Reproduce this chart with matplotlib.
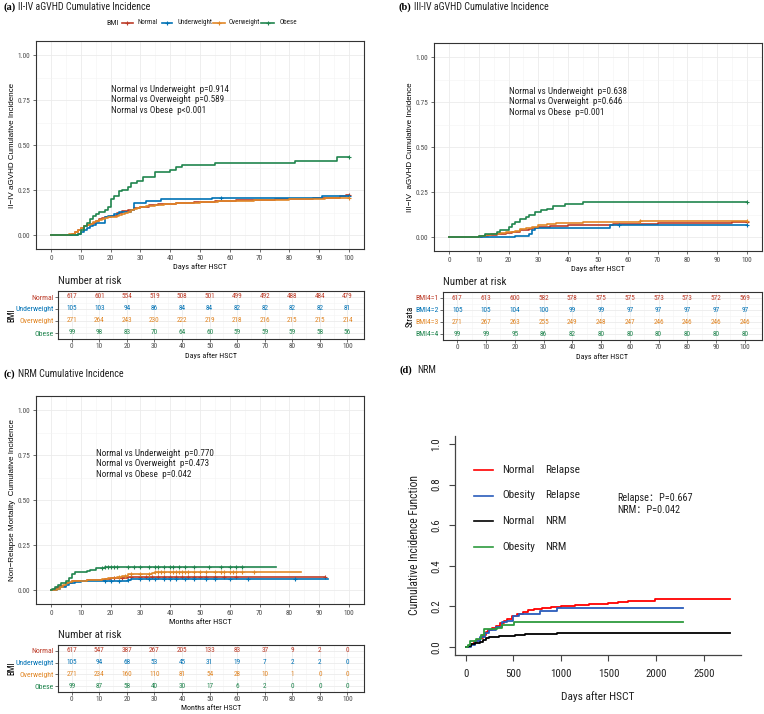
import matplotlib

matplotlib.use("Agg")
import matplotlib.pyplot as plt
import numpy as np
from matplotlib import font_manager as fm
from matplotlib.lines import Line2D

W, H = 764, 714
SERIF = ["Liberation Serif", "DejaVu Serif"]


def pick_narrow():
    """Find a condensed sans if one is installed, else fall back to Roboto."""
    fonts = [(f.name, str(f.stretch)) for f in fm.fontManager.ttflist]
    names = {n for n, _ in fonts}
    for n in ["Liberation Sans Narrow", "Roboto Condensed", "Open Sans Condensed",
              "Noto Sans Condensed", "DejaVu Sans Condensed"]:
        if n in names:
            return n, "normal", 1.0
    for n, s in fonts:
        if n in ("DejaVu Sans", "Noto Sans", "Open Sans", "Roboto") and "condensed" in s:
            return n, "condensed", 1.0
    return "Roboto", "normal", 0.86


NARROW_NAME, NARROW_STRETCH, FS = pick_narrow()
NARROW = [NARROW_NAME, "DejaVu Sans"]
plt.rcParams["font.family"] = NARROW
plt.rcParams["font.stretch"] = NARROW_STRETCH

GROUPS = ["Normal", "Underweight", "Overweight", "Obese"]
STRATA = ["BMI4=1", "BMI4=2", "BMI4=3", "BMI4=4"]
COLORS = ["#BC3C29", "#0072B5", "#E18727", "#20854E"]
RISK_TIMES = [0, 10, 20, 30, 40, 50, 60, 70, 80, 90, 100]

# ---- (a) II-IV aGVHD, days ----
a_normal_t = [0, 5, 7, 8, 9, 10, 11, 12, 13, 14, 15, 16, 17, 18, 19, 20, 22, 24, 26, 28, 30, 33, 36, 42, 48, 55, 62, 75, 88, 93, 97, 99]
a_normal_v = [0, .005, .01, .02, .03, .04, .05, .06, .065, .07, .08, .09, .095, .1, .105, .11, .125, .135, .14, .15, .16, .17, .175, .18, .185, .19, .195, .2, .205, .21, .22, .225]
a_under_t = [0, 9, 10, 11, 12, 13, 14, 15, 18, 19, 21, 23, 27, 28, 32, 37, 54, 91]
a_under_v = [0, .01, .02, .03, .04, .05, .06, .07, .1, .11, .12, .13, .14, .18, .19, .2, .21, .22]
a_over_t = [0, 4, 6, 8, 9, 10, 11, 12, 13, 14, 15, 16, 17, 18, 19, 20, 22, 23, 24, 25, 26, 27, 28, 29, 30, 32, 35, 38, 42, 50, 56, 68, 80, 92, 99]
a_over_v = [0, .005, .01, .02, .03, .04, .05, .06, .065, .075, .08, .085, .09, .095, .1, .105, .11, .115, .12, .125, .13, .14, .145, .15, .16, .165, .17, .175, .18, .185, .19, .195, .2, .205, .21]
a_obese_t = [0, 9, 10, 11, 12, 13, 14, 15, 16, 18, 19, 20, 21, 23, 24, 26, 27, 29, 31, 35, 40, 42, 44, 55, 82, 96]
a_obese_v = [0, .01, .03, .05, .07, .09, .11, .12, .13, .14, .16, .2, .22, .245, .25, .27, .29, .3, .326, .35, .364, .38, .39, .4, .415, .435]
a_marks = [[100], [57, 100], [100], [100]]
a_pvals = ["Normal vs Underweight  p=0.914", "Normal vs Overweight  p=0.589", "Normal vs Obese  p<0.001"]
a_risk = [
    [617, 601, 554, 519, 508, 501, 499, 492, 488, 484, 479],
    [105, 103, 94, 86, 84, 84, 82, 82, 82, 82, 81],
    [271, 264, 243, 230, 222, 219, 218, 216, 215, 215, 214],
    [99, 98, 83, 70, 64, 60, 59, 59, 59, 58, 56],
]

# ---- (b) III-IV aGVHD, days ----
b_normal_t = [0, 9, 11, 13, 16, 19, 21, 24, 27, 28, 30, 34, 40, 55, 70, 95]
b_normal_v = [0, .005, .01, .015, .02, .025, .03, .04, .045, .05, .06, .065, .07, .075, .08, .085]
b_under_t = [0, 20, 22, 27, 28, 29, 38, 54]
b_under_v = [0, .005, .01, .02, .04, .05, .055, .067]
b_over_t = [0, 4, 10, 12, 14, 17, 19, 22, 24, 26, 28, 30, 33, 36, 45, 64]
b_over_v = [0, .005, .01, .015, .02, .025, .03, .035, .045, .05, .06, .07, .075, .08, .085, .09]
b_obese_t = [0, 10, 12, 16, 17, 20, 21, 22, 24, 26, 27, 29, 31, 33, 35, 39, 45]
b_obese_v = [0, .01, .02, .03, .04, .06, .075, .085, .1, .115, .125, .14, .15, .16, .175, .185, .195]
b_marks = [[100], [57, 100], [64, 100], [100]]
b_pvals = ["Normal vs Underweight  p=0.638", "Normal vs Overweight  p=0.646", "Normal vs Obese  p=0.001"]
b_risk = [
    [617, 613, 600, 582, 578, 575, 575, 573, 573, 572, 569],
    [105, 105, 104, 100, 99, 99, 97, 97, 97, 97, 97],
    [271, 267, 263, 255, 249, 248, 247, 246, 246, 246, 246],
    [99, 99, 95, 86, 82, 80, 80, 80, 80, 80, 80],
]

# ---- (c) NRM, months ----
c_normal_t = [0, 1, 2, 3, 5, 7, 10, 12, 18, 20, 26]
c_normal_v = [0, .01, .02, .025, .04, .05, .055, .06, .065, .07, .075]
c_under_t = [0, 2, 3, 5, 6, 8, 10, 20, 26, 27]
c_under_v = [0, .01, .02, .03, .04, .045, .05, .055, .06, .065]
c_over_t = [0, 1, 2, 3, 4, 5, 6, 7, 9, 12, 17, 19, 22, 24, 26, 34, 35]
c_over_v = [0, .005, .01, .02, .03, .04, .045, .05, .055, .06, .065, .07, .075, .08, .09, .095, .1]
c_obese_t = [0, .5, 1.5, 2.5, 3.5, 5, 6, 7, 8, 11, 12, 13, 15, 18]
c_obese_v = [0, .01, .02, .03, .04, .05, .07, .09, .1, .105, .11, .115, .125, .13]
c_ends = [92, 93, 84, 75.5]
c_marks = [
    [21, 24, 27, 30, 32, 34, 36, 38, 40, 42, 44, 46, 48, 50, 52, 55, 58, 62, 92],
    [18, 20, 23, 26, 30, 33, 35, 38, 40, 42, 45, 48, 52, 55, 60, 66, 82],
    [23, 25, 27, 30, 33, 35, 36, 37, 38, 40, 41, 42, 43, 44, 45, 46, 48, 50, 52, 55, 57, 58, 60, 61, 62, 64, 68],
    [17, 18, 19, 20, 21, 22, 26, 28, 30, 33, 35, 36, 38, 40, 41, 43, 45, 48, 53, 57, 60, 62, 64],
]
c_pvals = ["Normal vs Underweight  p=0.770", "Normal vs Overweight  p=0.473", "Normal vs Obese  p=0.042"]
c_risk = [
    [617, 547, 387, 267, 205, 133, 83, 37, 9, 2, 0],
    [105, 94, 68, 53, 45, 31, 19, 7, 2, 2, 0],
    [271, 234, 160, 110, 81, 54, 28, 10, 1, 0, 0],
    [99, 87, 58, 40, 30, 17, 6, 2, 0, 0, 0],
]

# ---- (d) competing risks, days ----
d_labels = [("Normal", "Relapse"), ("Obesity", "Relapse"), ("Normal", "NRM"), ("Obesity", "NRM")]
d_colors = ["#FF0000", "#2A5CBB", "#000000", "#2E9B3E"]
d_nrel_t = [0, 40, 60, 90, 120, 150, 180, 210, 240, 280, 320, 360, 400, 440, 490, 540, 600, 660, 720, 800, 900, 1000, 1150, 1300, 1500, 1600, 1700, 1990]
d_nrel_v = [0, .005, .015, .025, .035, .045, .06, .075, .085, .093, .105, .118, .128, .14, .152, .162, .172, .18, .188, .192, .197, .202, .207, .212, .217, .222, .228, .238]
d_orel_t = [0, 60, 100, 150, 200, 250, 320, 380, 440, 500, 560, 780, 960]
d_orel_v = [0, .01, .03, .05, .07, .085, .1, .125, .13, .15, .16, .175, .19]
d_nnrm_t = [0, 30, 60, 100, 150, 180, 210, 250, 350, 450, 520, 620, 800, 960]
d_nnrm_v = [0, .005, .012, .02, .025, .035, .045, .05, .053, .056, .06, .063, .066, .07]
d_onrm_t = [0, 25, 50, 110, 160, 190, 330, 380, 510]
d_onrm_v = [0, .01, .03, .04, .06, .09, .095, .11, .125]
d_ends = [2780, 2280, 2780, 2280]


def px_axes(fig, left, top, right, bottom):
    return fig.add_axes([left / W, 1 - bottom / H, (right - left) / W, (bottom - top) / H])


def ftext(fig, x, y, s, **kw):
    kw.setdefault("va", "center")
    return fig.text(x / W, 1 - y / H, s, **kw)


def fline(fig, x0, x1, y, color, marker=None):
    ln = Line2D([x0 / W, x1 / W], [1 - y / H, 1 - y / H], color=color, lw=1.2,
                transform=fig.transFigure)
    fig.add_artist(ln)
    if marker:
        mk = Line2D([(x0 + x1) / 2 / W], [1 - y / H], marker=marker, ms=3.5, mew=0.8,
                    color=color, transform=fig.transFigure)
        fig.add_artist(mk)


def gg_frame(ax, xlim, ylim, tick_len=2.5, pad=1.5):
    ax.set_xlim(xlim)
    ax.set_ylim(ylim)
    ax.grid(which="major", color="#EBEBEB", lw=0.6)
    ax.grid(which="minor", color="#F3F3F3", lw=0.4)
    ax.set_axisbelow(True)
    for s in ax.spines.values():
        s.set_color("#333333")
        s.set_linewidth(0.8)
    ax.tick_params(which="major", length=tick_len, width=0.5, color="#333333",
                   labelsize=5.3 * FS, labelcolor="#4D4D4D", pad=pad)
    ax.tick_params(which="minor", length=0)


def step_curve(ax, t, v, end, color, marks=(), lw=1.2):
    ax.step(list(t) + [end], list(v) + [v[-1]], where="post", color=color, lw=lw)
    if len(marks):
        m = np.asarray(marks, dtype=float)
        idx = np.searchsorted(t, m, side="right") - 1
        ax.plot(m, np.asarray(v)[idx], "+", color=color, ms=3.5, mew=0.8)


def cum_panel(ax, curves, ends, marks, pvals, ptext_xy, xlabel, ylabel, ylab_x, fig, box):
    gg_frame(ax, (-5, 105), (-0.075, 1.078))
    ax.set_xticks(RISK_TIMES)
    ax.set_xticks(np.arange(5, 100, 10), minor=True)
    ax.set_yticks([0, 0.25, 0.5, 0.75, 1.0])
    ax.set_yticklabels(["0.00", "0.25", "0.50", "0.75", "1.00"])
    ax.set_yticks([0.125, 0.375, 0.625, 0.875], minor=True)
    for (t, v), end, col, mk in zip(curves, ends, COLORS, marks):
        step_curve(ax, t, v, end, col, mk)
    x0, y0 = ptext_xy
    for i, s in enumerate(pvals):
        ax.text(x0, y0 - i * 0.058, s, fontsize=6.6 * FS, color="#222222", va="center")
    left, top, right, bottom = box
    ftext(fig, (left + right) / 2, bottom + 18, xlabel, ha="center", fontsize=6.0 * FS,
          color="#111111")
    ftext(fig, ylab_x, (top + bottom) / 2, ylabel, ha="center", rotation=90,
          fontsize=5.8, family=["Liberation Sans", "DejaVu Sans"], stretch="normal")


def risk_table(ax, fig, rows, labels, ylabel, ylab_x, xlabel, box):
    left, top, right, bottom = box
    gg_frame(ax, (-5, 106), (4.5, 0.5), tick_len=2, pad=1)
    ax.set_xticks(RISK_TIMES)
    ax.set_xticks(np.arange(5, 100, 10), minor=True)
    ax.set_yticks([1, 2, 3, 4])
    ax.set_yticklabels(labels)
    ax.set_yticks([1.5, 2.5, 3.5], minor=True)
    for lab, col in zip(ax.get_yticklabels(), COLORS):
        lab.set_color(col)
    ax.tick_params(axis="y", labelsize=5.6 * FS)
    for r, (counts, col) in enumerate(zip(rows, COLORS)):
        for t, n in zip(RISK_TIMES, counts):
            ax.text(t, r + 1, str(n), ha="center", va="center", fontsize=5.2 * FS, color=col)
    ftext(fig, left, top - 10, "Number at risk", ha="left", fontsize=7.8 * FS, color="#222222")
    ftext(fig, (left + right) / 2, bottom + 16.5, xlabel, ha="center", fontsize=5.8 * FS,
          color="#111111")
    ftext(fig, ylab_x, (top + bottom) / 2, ylabel, ha="center", rotation=90, fontsize=6.4 * FS)


def panel_title(fig, x, y, tag, text, gap=15):
    ftext(fig, x, y, tag, ha="left", fontsize=7.5, fontweight="bold", family=SERIF,
          stretch="normal")
    ftext(fig, x + gap, y, text, ha="left", fontsize=7.2 * FS, color="#222222")


fig = plt.figure(figsize=(W / 100, H / 100), dpi=100)
fig.patch.set_facecolor("white")

# ---- panel (a) ----
box_a = (36, 41, 364, 249)
ax_a = px_axes(fig, *box_a)
cum_panel(ax_a, [(a_normal_t, a_normal_v), (a_under_t, a_under_v), (a_over_t, a_over_v),
                 (a_obese_t, a_obese_v)], [100] * 4, a_marks, a_pvals, (20, 0.81),
          "Days after HSCT", "II\u2212IV aGVHD Cumulative Incidence", 13, fig, box_a)
box_at = (58, 291, 364, 339)
risk_table(px_axes(fig, *box_at), fig, a_risk, GROUPS, "BMI", 12, "Days after HSCT", box_at)
panel_title(fig, 3, 7, "(a)", "II-IV aGVHD Cumulative Incidence")

# legend (a)
ftext(fig, 119, 23, "BMI", ha="right", fontsize=5.8 * FS, color="#222222")
leg_lines = [(122, 133, 137), (162, 172, 177), (213, 225, 229), (261, 274, 280)]
for (x0, x1, xt), g, col in zip(leg_lines, GROUPS, COLORS):
    fline(fig, x0, x1, 23, col, marker="+")
    ftext(fig, xt, 23, g, ha="left", fontsize=5.0 * FS, color="#222222")

# ---- panel (b) ----
box_b = (434, 43, 762, 251)
ax_b = px_axes(fig, *box_b)
cum_panel(ax_b, [(b_normal_t, b_normal_v), (b_under_t, b_under_v), (b_over_t, b_over_v),
                 (b_obese_t, b_obese_v)], [100] * 4, b_marks, b_pvals, (20, 0.81),
          "Days after HSCT", "III\u2212IV  aGVHD Cumulative Incidence", 411, fig, box_b)
box_bt = (443, 292, 762, 340)
risk_table(px_axes(fig, *box_bt), fig, b_risk, STRATA, "Strata", 410, "Days after HSCT", box_bt)
panel_title(fig, 399, 7, "(b)", "III-IV aGVHD Cumulative Incidence")

# ---- panel (c) ----
box_c = (36, 396, 364, 604)
ax_c = px_axes(fig, *box_c)
cum_panel(ax_c, [(c_normal_t, c_normal_v), (c_under_t, c_under_v), (c_over_t, c_over_v),
                 (c_obese_t, c_obese_v)], c_ends, c_marks, c_pvals, (15, 0.76),
          "Months after HSCT", "Non\u2212Relapse Mortality  Cumulative Incidence", 13, fig, box_c)
box_ct = (58, 645, 364, 692)
risk_table(px_axes(fig, *box_ct), fig, c_risk, GROUPS, "BMI", 12, "Months after HSCT", box_ct)
panel_title(fig, 3, 374, "(c)", "NRM Cumulative Incidence")

# ---- panel (d) ----
ax_d = px_axes(fig, 455, 436, 741, 655)
ax_d.set_xlim(-111, 2891)
ax_d.set_ylim(-0.04, 1.04)
for (t, v), end, col in zip([(d_nrel_t, d_nrel_v), (d_orel_t, d_orel_v), (d_nnrm_t, d_nnrm_v),
                             (d_onrm_t, d_onrm_v)], d_ends, d_colors):
    step_curve(ax_d, t, v, end, col, lw=1.3)
ax_d.spines["top"].set_visible(False)
ax_d.spines["right"].set_visible(False)
for s in ("left", "bottom"):
    ax_d.spines[s].set_color("#444444")
    ax_d.spines[s].set_linewidth(0.9)
ax_d.set_xticks([0, 500, 1000, 1500, 2000, 2500])
ax_d.set_yticks([0, 0.2, 0.4, 0.6, 0.8, 1.0])
ax_d.set_yticklabels(["0.0", "0.2", "0.4", "0.6", "0.8", "1.0"])
ax_d.tick_params(length=4, width=0.8, color="#444444", labelsize=7.8 * FS,
                 labelcolor="#222222", pad=6)
for lab in ax_d.get_yticklabels():
    lab.set_rotation(90)
    lab.set_va("center")
ftext(fig, 598, 697, "Days after HSCT", ha="center", fontsize=8.2 * FS, color="#222222")
ftext(fig, 415, 545, "Cumulative Incidence Function", ha="center", rotation=90,
      fontsize=8.4 * FS, color="#222222")
for i, ((w1, w2), col) in enumerate(zip(d_labels, d_colors)):
    y = 470 + i * 25.5
    fline(fig, 474, 493, y, col)
    ftext(fig, 502, y, w1, ha="left", fontsize=8.0 * FS, color="#222222")
    ftext(fig, 545, y, w2, ha="left", fontsize=8.0 * FS, color="#222222")
CJK = [NARROW_NAME, "Noto Sans CJK SC", "DejaVu Sans"]
ftext(fig, 617, 498, "Relapse\uff1aP=0.667", ha="left", fontsize=7.4 * FS, color="#222222",
      family=CJK)
ftext(fig, 617, 510, "NRM\uff1aP=0.042", ha="left", fontsize=7.4 * FS, color="#222222",
      family=CJK)
panel_title(fig, 400, 370, "(d)", "NRM", gap=17)

fig.savefig("out.png", dpi=100, facecolor="white")
